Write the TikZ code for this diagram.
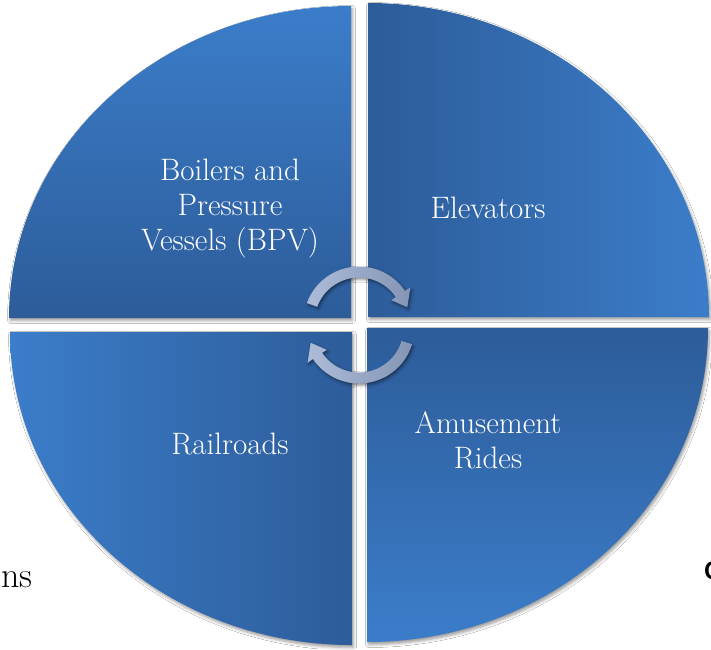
\documentclass[tikz,border=0pt]{standalone}
\usepackage{fontspec}
\newfontfamily\sansC{Carlito}
\usetikzlibrary{calc,shadows.blur}
\definecolor{segLight}{RGB}{59,125,202}
\definecolor{segDark}{RGB}{45,92,153}
\definecolor{arrLight}{RGB}{172,188,216}
\definecolor{arrDark}{RGB}{132,149,181}
\tikzset{
  segment/.style={draw=none, blur shadow={shadow xshift=1.5pt, shadow yshift=-2.5pt, shadow blur radius=3pt, shadow opacity=40}},
  cyclearrow/.style={draw=none, left color=arrLight, right color=arrDark, blur shadow={shadow xshift=1.5pt, shadow yshift=-2pt, shadow blur radius=2.5pt, shadow opacity=45}},
  label/.style={text=white, align=center, font=\fontsize{31}{35}\selectfont, inner sep=0pt},
  pagetext/.style={text=black, inner sep=0pt}
}
\begin{document}
\begin{tikzpicture}[x=1pt,y=-1pt]
\useasboundingbox (0,0) rectangle (711,649);
\clip (0,0) rectangle (711,649);
\fill[white] (0,0) rectangle (711,649);

% page text behind the diagram
\node[pagetext, anchor=base east, font=\fontsize{36}{40}\selectfont] (ns) at (33,587) {ns};
\node[pagetext, anchor=base west, font=\sansC\bfseries\fontsize{27}{30}\selectfont] (cc) at (704.5,579) {C};

% quarter segments
\path[segment, top color=segLight, bottom color=segDark]
  (351,318) -- (9,318) arc[start angle=180, end angle=270, x radius=342, y radius=312] -- cycle;
\path[segment, left color=segDark, right color=segLight]
  (368,317) -- (368,3) arc[start angle=270, end angle=360, x radius=341, y radius=314] -- cycle;
\path[segment, left color=segLight, right color=segDark]
  (352,332) -- (352,645) arc[start angle=90, end angle=180, x radius=342, y radius=313] -- cycle;
\path[segment, top color=segDark, bottom color=segLight]
  (367,328) -- (708,328) arc[start angle=0, end angle=90, x radius=341, y radius=314] -- cycle;

% circular arrows
\coordinate (Ct) at (359,322);
\coordinate (Cb) at (359,328);
\path[cyclearrow]
  ($(Ct)+(-160:55.5)$) arc[start angle=-160, end angle=-34, radius=55.5]
  -- ($(Ct)+(-34:62)$) -- ($(Ct)+(-17:50.5)$) -- ($(Ct)+(-34:39)$)
  -- ($(Ct)+(-34:44.5)$) arc[start angle=-34, end angle=-160, radius=44.5] -- cycle;
\path[cyclearrow]
  ($(Cb)+(17:55.5)$) arc[start angle=17, end angle=146, radius=55.5]
  -- ($(Cb)+(146:62)$) -- ($(Cb)+(163:50.5)$) -- ($(Cb)+(146:39)$)
  -- ($(Cb)+(146:44.5)$) arc[start angle=146, end angle=17, radius=44.5] -- cycle;

% labels
\node[label] (bpv) at (230,209) {Boilers and\\Pressure\\Vessels (BPV)};
\node[label] (elev) at (488,208) {Elevators};
\node[label] (rail) at (230,444) {Railroads};
\node[label] (ride) at (488,440) {Amusement\\Rides};
\end{tikzpicture}
\end{document}
